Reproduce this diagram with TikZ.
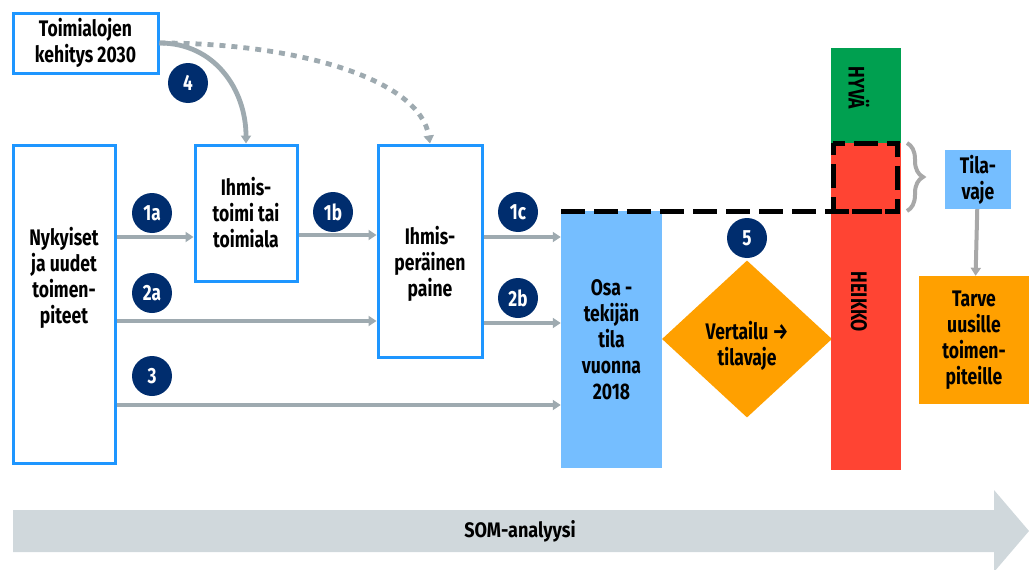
\documentclass[tikz,border=0pt]{standalone}
\usepackage{fontspec}
\setmainfont{Fira Sans}[FakeStretch=0.78]
\newfontfamily\somfont{Fira Sans}[FakeStretch=0.86]
\usetikzlibrary{positioning, arrows.meta, shapes.geometric, decorations.pathreplacing}

\definecolor{boxblue}{RGB}{30,150,255}
\definecolor{lightblue}{RGB}{117,190,255}
\definecolor{navy}{RGB}{0,45,110}
\definecolor{flowgray}{RGB}{158,170,176}
\definecolor{braygray}{RGB}{168,168,168}
\definecolor{somgray}{RGB}{208,216,220}
\definecolor{orange}{RGB}{255,160,0}
\definecolor{weakred}{RGB}{255,68,51}
\definecolor{goodgreen}{RGB}{0,160,80}

\begin{document}
\begin{tikzpicture}[x=1pt,y=-1pt]
    % settings for this picture
    \tikzset{
      box/.style={draw=boxblue, line width=3pt, fill=white, inner sep=0pt},
      lbl/.style={align=center, font=\bfseries\fontsize{22.5}{26}\selectfont, inner sep=0pt},
      num/.style={circle, fill=navy, text=white, minimum size=40pt, inner sep=0pt,
                  font=\bfseries\fontsize{22}{24}\selectfont},
      flow/.style={draw=flowgray, line width=4.8pt, -{Triangle[length=8pt,width=10pt]}},
      bar/.style={inner sep=0pt, minimum width=70pt},
      gap/.style={draw=black, line width=5pt, dash pattern=on 24pt off 9pt},
    }
    \useasboundingbox (0,0) rectangle (1029,570);

    % SOM arrow at the bottom
    \fill[somgray] (13,510) -- (994,510) -- (994,490) -- (1029,531)
                   -- (994,572) -- (994,552) -- (13,552) -- cycle;
    \node[font=\somfont\fontsize{21}{24}\selectfont\bfseries] (som) at (520,531) {SOM-analyysi};

    % boxes
    \node[box, minimum width=145pt, minimum height=60pt, lbl] (dev) at (85.5,43)
         {Toimialojen\\kehitys 2030};
    \node[box, minimum width=102pt, minimum height=318pt] (nyk) at (64,304) {};
    \node[lbl] (nyktxt) at (64,278) {Nykyiset\\ja uudet\\toimen-\\piteet};
    \node[box, minimum width=102pt, minimum height=136pt, lbl] (act) at (246,213)
         {Ihmis-\\toimi tai\\toimiala};
    \node[box, minimum width=104pt, minimum height=212pt] (pres) at (430,251) {};
    \node[lbl] (prestxt) at (430,264) {Ihmis-\\peräinen\\paine};
    \node[fill=lightblue, minimum width=101pt, minimum height=257pt, lbl] (state) at (611.5,339.5)
         {Osa -\\tekijän\\tila\\vuonna\\2018};
    \node[diamond, fill=orange, minimum width=170pt, minimum height=157pt, inner sep=0pt]
         (comp) at (747,339) {};
    \node[lbl] (comptxt) at (747,346) {Vertailu →\\tilavaje};

    % good and weak bars
    \node[bar, fill=goodgreen, minimum height=95pt] (good) at (866,95.5) {};
    \node[bar, fill=weakred, minimum height=327pt] (weak) at (866,306.5) {};
    \node[lbl, rotate=-90] (goodtxt) at (859,88) {HYVÄ};
    \node[lbl, rotate=-90] (weaktxt) at (859,302) {HEIKKO};

    % need
    \node[fill=lightblue, minimum width=66pt, minimum height=59pt, lbl] (need) at (978,179.5)
         {Tila-\\vaje};
    \node[fill=orange, minimum width=110pt, minimum height=128pt, lbl] (tarve) at (974,340)
         {Tarve\\uusille\\toimen-\\piteille};

    % dashed gap
    \coordinate (gapL) at (561,211);
    \coordinate (gapR) at (897,211);
    \coordinate (gapT) at (833,143);
    \draw[gap] (gapL) -- (gapR);
    \draw[gap, dash phase=12pt] (gapT) rectangle (gapR);
    \coordinate (brT) at (907,143);
    \coordinate (brB) at (907,211);
    \draw[braygray, line width=4pt, decorate, decoration={brace, amplitude=16pt}]
         (brT) -- (brB);

    % flows
    \draw[flow] (nyk.east |- 0,237) -- (act.west |- 0,237);
    \draw[flow] (act.east |- 0,235) -- (pres.west |- 0,235);
    \draw[flow] (pres.east |- 0,237) -- (state.west |- 0,237);
    \draw[flow] (nyk.east |- 0,321) -- (pres.west |- 0,321);
    \draw[flow] (pres.east |- 0,323) -- (state.west |- 0,323);
    \draw[flow] (nyk.east |- 0,405) -- (state.west |- 0,405);
    \draw[flow] (dev.east) .. controls (215,43) and (246,90) .. (act.north);
    \draw[flow, line cap=butt, dash pattern=on 6pt off 6pt] (dev.east)
         .. controls (300,43) and (420,80) .. (pres.north);
    \draw[draw=braygray, line width=4pt, -{Triangle[length=8pt,width=10pt]}] (need) -- (tarve);

    % numbers
    \node[num] (n1a) at (152,213) {1a};
    \node[num] (n1b) at (333,212) {1b};
    \node[num] (n1c) at (518,212) {1c};
    \node[num] (n2a) at (152,293) {2a};
    \node[num] (n2b) at (518,298) {2b};
    \node[num] (n3) at (152,376) {3};
    \node[num] (n4) at (188,83) {4};
    \node[num] (n5) at (747,238) {5};

\end{tikzpicture}
\end{document}
